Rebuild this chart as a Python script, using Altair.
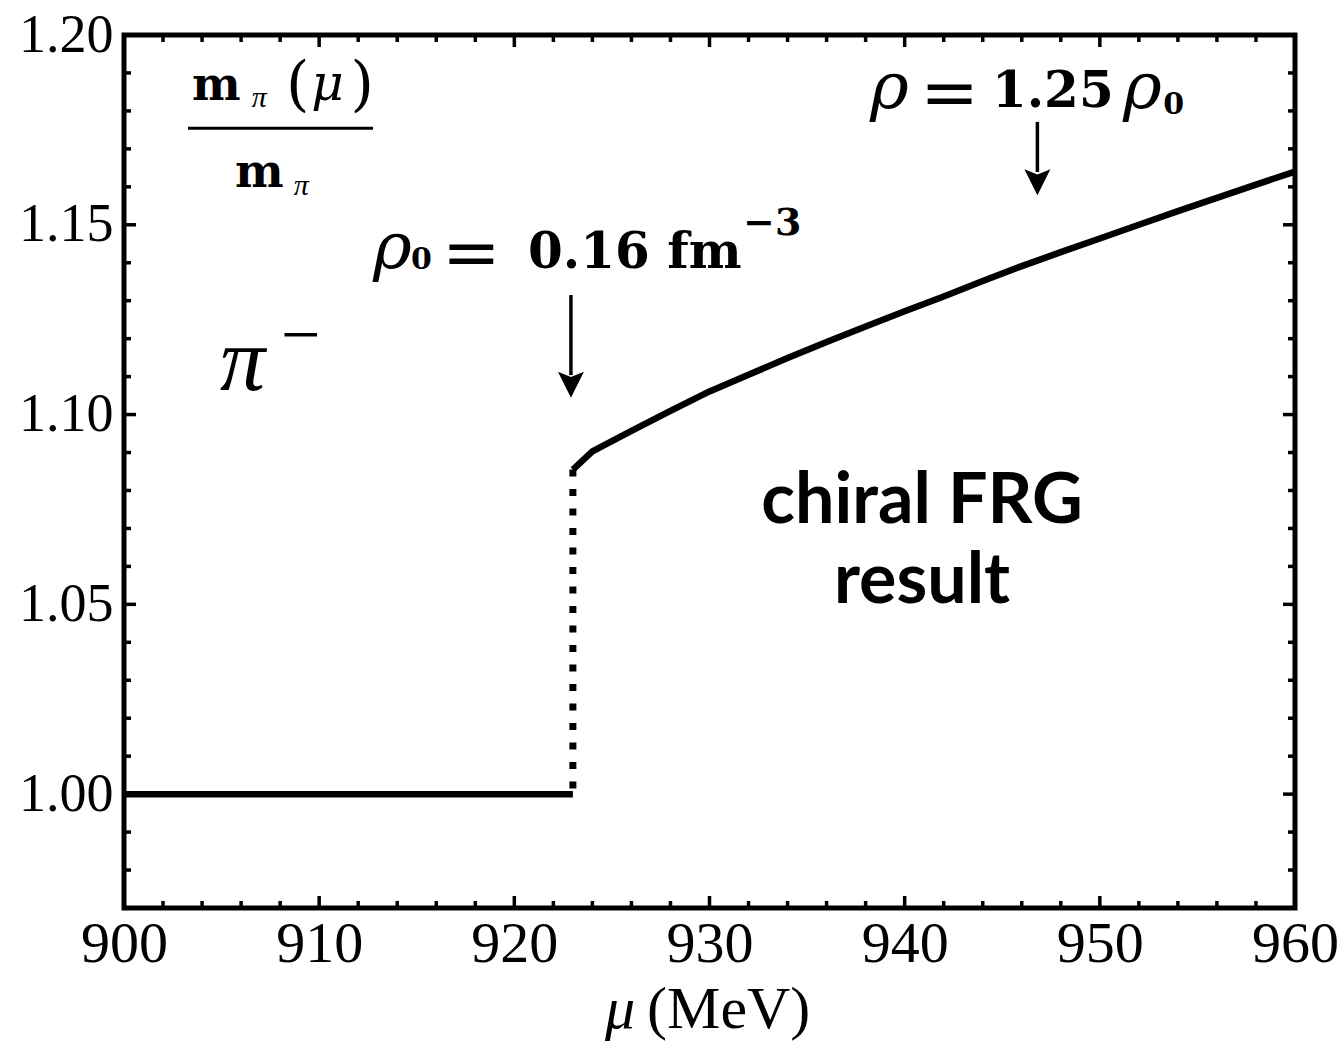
import altair as alt
import pandas as pd

# ---------------- data ----------------
mu_flat = [900, 923]
ratio_flat = [1.0, 1.0]

mu_jump = [923, 923]
ratio_jump = [1.0855, 1.0]

mu_curve = [923, 924, 926, 928, 930, 932, 934, 936, 938, 940, 942, 944,
            946, 948, 950, 952, 954, 956, 958, 960]
ratio_curve = [1.0855, 1.0903, 1.0957, 1.1010, 1.1061, 1.1105, 1.1149, 1.1191,
               1.1232, 1.1272, 1.1311, 1.1352, 1.1391, 1.1428, 1.1464, 1.1500,
               1.1536, 1.1571, 1.1606, 1.1640]

x_major = [910, 920, 930, 940, 950]
x_minor = [902, 904, 906, 908, 912, 914, 916, 918, 922, 924, 926, 928,
           932, 934, 936, 938, 942, 944, 946, 948, 952, 954, 956, 958]
y_major = [1.00, 1.05, 1.10, 1.15]
y_minor = [0.98, 0.99, 1.01, 1.02, 1.03, 1.04, 1.06, 1.07, 1.08, 1.09,
           1.11, 1.12, 1.13, 1.14, 1.16, 1.17, 1.18, 1.19]
x_labels = [900, 910, 920, 930, 940, 950, 960]
y_labels = [1.00, 1.05, 1.10, 1.15, 1.20]

# arrows: x, shaft top, shaft bottom, tip
arrows_x = [922.9, 946.8]
arrows_top = [1.1315, 1.1771]
arrows_base = [1.1104, 1.1639]
arrows_tip = [1.1044, 1.1578]

W, H = 1171, 873
XD = [900, 960]
YD = [0.97, 1.20]

xs = alt.Scale(domain=XD, nice=False, zero=False)
ys = alt.Scale(domain=YD, nice=False, zero=False)
x_axis = alt.Axis(values=x_labels, format="d", title=None, labelFontSize=58,
                  labelPadding=7, labelFont="Liberation Serif", labelColor="black",
                  labelFlush=False, labelOverlap=False, labelBound=False,
                  ticks=False, domain=False, grid=False)
y_axis = alt.Axis(values=y_labels, format=".2f", title=None, labelFontSize=54,
                  labelPadding=11, labelFont="Liberation Serif", labelColor="black",
                  labelFlush=False, labelOverlap=False, labelBound=False,
                  ticks=False, domain=False, grid=False)


def X(field="x"):
    return alt.X(f"{field}:Q", scale=xs, axis=x_axis)


def Y(field="y"):
    return alt.Y(f"{field}:Q", scale=ys, axis=y_axis)


# ---------------- lines ----------------
base = alt.Chart(pd.DataFrame({"x": mu_flat, "y": ratio_flat})).mark_line(
    color="black", strokeWidth=6.5, strokeCap="butt"
).encode(x=X(), y=Y())

jump = alt.Chart(pd.DataFrame({"x": mu_jump, "y": ratio_jump})).mark_line(
    color="black", strokeWidth=7, strokeDash=[7, 12.5], strokeCap="butt"
).encode(x=X(), y=Y())

curve = alt.Chart(pd.DataFrame({"x": mu_curve, "y": ratio_curve})).mark_line(
    color="black", strokeWidth=6.5, strokeCap="butt", strokeJoin="round"
).encode(x=X(), y=Y())


# ---------------- inward ticks ----------------
def xticks(vals, length):
    df = pd.DataFrame({"x": vals})
    b = alt.Chart(df).mark_rule(color="black", strokeWidth=3.5).encode(
        x=X(), y=alt.value(H), y2=alt.value(H - length))
    t = alt.Chart(df).mark_rule(color="black", strokeWidth=3.5).encode(
        x=X(), y=alt.value(0), y2=alt.value(length))
    return [b, t]


def yticks(vals, length):
    df = pd.DataFrame({"y": vals})
    l = alt.Chart(df).mark_rule(color="black", strokeWidth=3.5).encode(
        y=Y(), x=alt.value(0), x2=alt.value(length))
    r = alt.Chart(df).mark_rule(color="black", strokeWidth=3.5).encode(
        y=Y(), x=alt.value(W), x2=alt.value(W - length))
    return [l, r]


ticks = xticks(x_major, 12) + xticks(x_minor, 7) + yticks(y_major, 12) + yticks(y_minor, 7)

# ---------------- arrows ----------------
arr_df = pd.DataFrame({"x": arrows_x, "y": arrows_top, "y2": arrows_base, "tip": arrows_tip})
shafts = alt.Chart(arr_df).mark_rule(color="black", strokeWidth=3.5).encode(
    x=X(), y=Y(), y2="y2:Q")
heads = alt.Chart(arr_df).mark_point(
    shape="M-1,-2 L0,-1.6 L1,-2 L0,0 Z", filled=True, color="black",
    size=676, opacity=1, strokeWidth=0
).encode(x=X(), y=Y("tip"))

# ---------------- text annotations ----------------
# (text, x, y, size, font, weight, style, align)
SERIF = "DejaVu Serif"
TIMES = "Liberation Serif"
annotations = [
    # fraction m_pi(mu) / m_pi
    ("m", 903.48, 1.1829, 46, SERIF, "bold", "normal", "left"),
    ("π", 906.55, 1.1810, 30, TIMES, "normal", "italic", "left"),
    ("(", 908.30, 1.1818, 60, SERIF, "normal", "normal", "left"),
    ("μ", 909.60, 1.1829, 50, SERIF, "normal", "italic", "left"),
    (")", 911.60, 1.1818, 60, SERIF, "normal", "normal", "left"),
    ("m", 905.69, 1.15995, 46, SERIF, "bold", "normal", "left"),
    ("π", 908.70, 1.1578, 30, TIMES, "normal", "italic", "left"),
    # pi minus
    ("π", 904.92, 1.1065, 90, TIMES, "normal", "italic", "left"),
    ("−", 908.04, 1.1149, 70, TIMES, "normal", "normal", "left"),
    # rho_0 = 0.16 fm^-3
    ("ρ", 912.76, 1.1386, 66, SERIF, "normal", "italic", "left"),
    ("0", 914.70, 1.1383, 30, SERIF, "bold", "normal", "left"),
    ("=", 916.30, 1.1365, 70, SERIF, "normal", "normal", "left"),
    ("0.16 fm", 920.70, 1.1386, 50, SERIF, "bold", "normal", "left"),
    ("−3", 931.72, 1.1473, 38, SERIF, "bold", "normal", "left"),
    # rho = 1.25 rho_0
    ("ρ", 938.22, 1.1808, 66, SERIF, "normal", "italic", "left"),
    ("=", 940.80, 1.1787, 70, SERIF, "normal", "normal", "left"),
    ("1.25", 944.47, 1.1810, 50, SERIF, "bold", "normal", "left"),
    ("ρ", 951.19, 1.1808, 66, SERIF, "normal", "italic", "left"),
    ("0", 953.25, 1.1793, 30, SERIF, "bold", "normal", "left"),
    # chiral FRG result
    ("chiral FRG", 940.89, 1.0714, 70, "Lato", "bold", "normal", "center"),
    ("result", 940.89, 1.0503, 70, "Lato", "bold", "normal", "center"),
    # x-axis title
    ("μ", 924.64, 0.9385, 60, TIMES, "normal", "italic", "left"),
    ("(MeV)", 926.80, 0.9385, 60, TIMES, "normal", "normal", "left"),
]

text_layers = []
for s, x, y, size, font, weight, style, align in annotations:
    df = pd.DataFrame({"x": [x], "y": [y], "t": [s]})
    text_layers.append(
        alt.Chart(df).mark_text(
            font=font, fontSize=size, fontWeight=weight, fontStyle=style,
            align=align, baseline="alphabetic", color="black"
        ).encode(x=X(), y=Y(), text="t:N")
    )

# fraction bar
bar = alt.Chart(pd.DataFrame({"x": [903.28], "x2": [912.76], "y": [1.1754]})).mark_rule(
    color="black", strokeWidth=3).encode(x=X(), x2="x2:Q", y=Y())

chart = alt.layer(base, jump, curve, *ticks, shafts, heads, bar, *text_layers).properties(
    width=W, height=H,
    background="white",
    padding={"left": 124, "top": 35, "right": 47, "bottom": 136},
    autosize=alt.AutoSizeParams(type="none"),
).configure_view(
    stroke="black", strokeWidth=5
)

chart.save("out.html", embed_options={"renderer": "svg", "actions": False})
